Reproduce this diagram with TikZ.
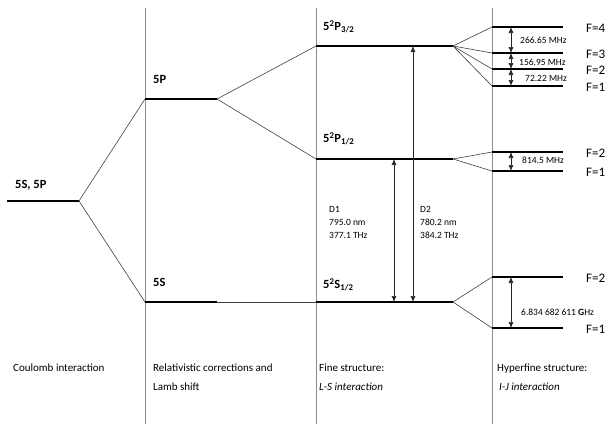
\documentclass[tikz,border=0pt]{standalone}
\usepackage{fontspec}
\setmainfont{Carlito}
\usetikzlibrary{arrows.meta}

\begin{document}
\begin{tikzpicture}[
    x=1pt, y=-1pt,
    level/.style={line width=2.2pt, black},
    link/.style={line width=0.6pt, black!75},
    divider/.style={line width=1pt, black!45},
    gap/.style={{Latex[length=6pt,width=5pt]}-{Latex[length=6pt,width=5pt]}, line width=0.6pt, black!85},
    statelabel/.style={font=\bfseries\fontsize{12.5}{14}\selectfont, anchor=west, inner sep=0pt},
    flabel/.style={font=\fontsize{13}{15}\selectfont, anchor=west, inner sep=0pt},
    freq/.style={font=\fontsize{9.5}{11}\selectfont, anchor=west, inner sep=0pt},
    lineinfo/.style={font=\fontsize{9.5}{13}\selectfont, anchor=north west, align=left, inner sep=0pt},
    caption/.style={font=\fontsize{11}{19}\selectfont, anchor=north west, align=left, inner sep=0pt}
]

\useasboundingbox (0,0) rectangle (615,424);

% Column dividers
\foreach \x/\n in {145/a,316/b,492/c} {
  \coordinate (top\n) at (\x,8);
  \coordinate (bot\n) at (\x,424);
  \draw[divider] (top\n) -- (bot\n);
}

% Coulomb interaction
\coordinate (g-l) at (7,201);
\coordinate (g-r) at (79,201);
\draw[level] (g-l) -- (g-r);
\node[statelabel] (glab) at (15,185) {5S, 5P};

% Relativistic corrections
\coordinate (p-l) at (145,99);
\coordinate (p-r) at (217,99);
\coordinate (s-l) at (145,302);
\coordinate (s-r) at (217,302);
\draw[link] (g-r) -- (p-l);
\draw[link] (g-r) -- (s-l);
\draw[level] (p-l) -- (p-r);
\draw[level] (s-l) -- (s-r);
\node[statelabel] (plab) at (153,79) {5P};
\node[statelabel] (slab) at (153,282) {5S};

% Fine structure
\coordinate (p32-l) at (316,46);
\coordinate (p32-r) at (453,46);
\coordinate (p12-l) at (316,159);
\coordinate (p12-r) at (453,159);
\coordinate (s12-l) at (316,302);
\coordinate (s12-r) at (453,302);
\draw[link] (p-r) -- (p32-l);
\draw[link] (p-r) -- (p12-l);
\draw[link] (s-r) -- (s12-l);
\draw[level] (p32-l) -- (p32-r);
\draw[level] (p12-l) -- (p12-r);
\draw[level] (s12-l) -- (s12-r);
\node[statelabel] (p32lab) at (323,27) {5\textsuperscript{2}P\textsubscript{3/2}};
\node[statelabel] (p12lab) at (323,139) {5\textsuperscript{2}P\textsubscript{1/2}};
\node[statelabel] (s12lab) at (323,285) {5\textsuperscript{2}S\textsubscript{1/2}};

% D lines
\coordinate (d1-t) at (394,159);
\coordinate (d1-b) at (394,302);
\coordinate (d2-t) at (413,46);
\coordinate (d2-b) at (413,302);
\draw[gap] (d1-b) -- (d1-t);
\draw[gap] (d2-b) -- (d2-t);
\node[lineinfo] (d1lab) at (329,206) {D1\\795.0 nm\\377.1 THz};
\node[lineinfo] (d2lab) at (420,206) {D2\\780.2 nm\\384.2 THz};

% Hyperfine structure
\foreach \n/\src/\y/\f in {a4/p32/27/4, a3/p32/53/3, a2/p32/69/2, a1/p32/86/1,
                           b2/p12/152/2, b1/p12/171/1,
                           c2/s12/277/2, c1/s12/328/1} {
  \coordinate (\n-l) at (492,\y);
  \coordinate (\n-r) at (563,\y);
  \coordinate (\n-m) at (511,\y);
  \draw[link] (\src-r) -- (\n-l);
  \draw[level] (\n-l) -- (\n-r);
  \node[flabel] (\n-lab) at (586,\y+1) {F=\f};
}

% Hyperfine splittings
\draw[gap] (a4-m) -- (a3-m);
\draw[gap] (a3-m) -- (a2-m);
\draw[gap] (a2-m) -- (a1-m);
\draw[gap] (b2-m) -- (b1-m);
\draw[gap] (c2-m) -- (c1-m);
\node[freq] (fa43) at (520,40) {266.65 MHz};
\node[freq] (fa32) at (519,62) {156.95 MHz};
\node[freq] (fa21) at (525,78) {72.22 MHz};
\node[freq] (fb21) at (522,160) {814.5 MHz};
\node[freq] (fc21) at (521,312) {6.834 682 611 \textbf{G}Hz};

% Captions
\node[caption] (cap1) at (13,364) {Coulomb interaction};
\node[caption] (cap2) at (153,364) {Relativistic corrections and\\Lamb shift};
\node[caption] (cap3) at (319,364) {Fine structure:\\\textit{L-S interaction}};
\node[caption] (cap4) at (497,364) {Hyperfine structure:\\\hspace{2pt}\textit{I-J interaction}};

\end{tikzpicture}
\end{document}
